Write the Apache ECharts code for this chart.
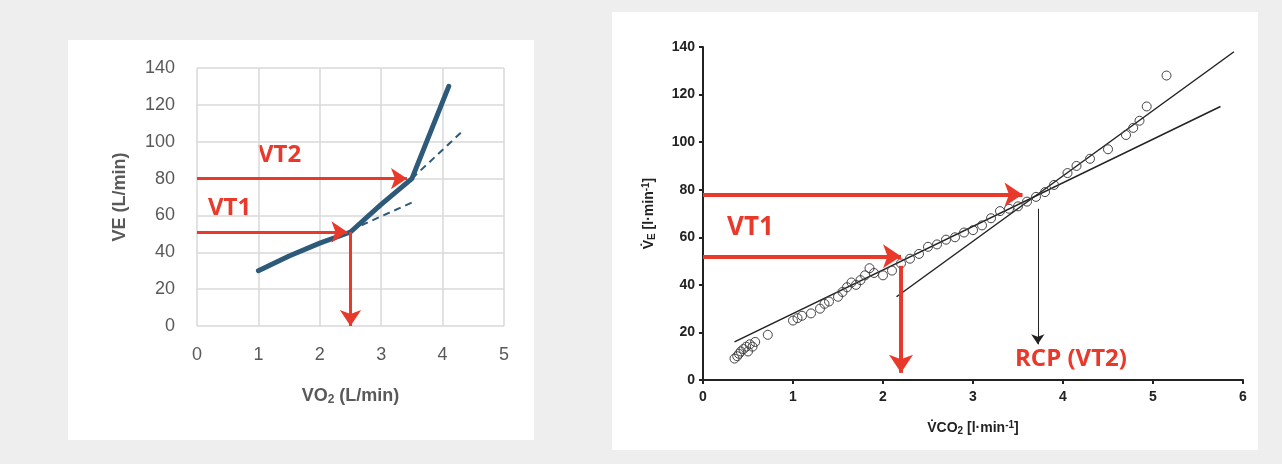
<!DOCTYPE html>
<html>
<head>
<meta charset="utf-8">
<script src="https://cdn.jsdelivr.net/npm/echarts@6/dist/echarts.min.js"></script>
<style>
  html, body { margin: 0; padding: 0; background: #eeeeee; }
  #chart { width: 1282px; height: 464px; }
</style>
</head>
<body>
<div id="chart"></div>
<script>
// left panel: VE vs VO2
var leftCurve = [[1, 30], [1.5, 38], [2, 45], [2.5, 51], [3, 66], [3.5, 80], [4.1, 130]];
var leftDash1 = [[2.5, 52], [3.5, 67]];
var leftDash2 = [[3.5, 80], [4.3, 105]];
var leftArrows = [
  [[0, 80], [3.42, 80]],
  [[0, 51], [2.45, 51]],
  [[2.5, 51], [2.5, 0]]
];

// right panel: VE vs VCO2
var rightPoints = [
  [0.35, 9], [0.38, 10], [0.4, 11], [0.42, 12], [0.45, 13], [0.48, 14], [0.5, 12], [0.52, 15],
  [0.55, 14], [0.58, 16], [0.72, 19], [1.0, 25], [1.05, 26], [1.1, 27], [1.2, 28], [1.3, 30],
  [1.35, 32], [1.4, 33], [1.5, 35], [1.55, 37], [1.6, 39], [1.65, 41], [1.7, 40], [1.75, 42],
  [1.8, 44], [1.85, 47], [1.9, 45], [2.0, 44], [2.1, 46], [2.2, 49], [2.3, 51], [2.4, 53],
  [2.5, 56], [2.6, 57], [2.7, 59], [2.8, 60], [2.9, 62], [3.0, 63], [3.1, 65], [3.2, 68],
  [3.3, 71], [3.4, 72], [3.5, 73], [3.6, 75], [3.7, 77], [3.8, 79], [3.9, 82], [4.05, 87],
  [4.15, 90], [4.3, 93], [4.5, 97], [4.7, 103], [4.78, 106], [4.85, 109], [4.93, 115], [5.15, 128]
];
var rightLine1 = [[0.35, 16], [5.75, 115]];
var rightLine2 = [[2.15, 35], [5.9, 138]];
var rightArrows = [
  [[0, 78], [3.55, 78]],
  [[0, 52], [2.2, 52]],
  [[2.2, 48], [2.2, 3]]
];
var rcpArrow = [[[3.72, 72], [3.72, 15]]];

var RED = '#e8392b';
var chart = echarts.init(document.getElementById('chart'));

function arrowLines(data, xi, color, width, size) {
  return {
    type: 'lines', coordinateSystem: 'cartesian2d', xAxisIndex: xi, yAxisIndex: xi,
    symbol: ['none', 'arrow'], symbolSize: size,
    lineStyle: { color: color, width: width, opacity: 1 },
    data: data.map(function (c) { return { coords: c }; }),
    z: 5
  };
}

chart.setOption({
  backgroundColor: '#eeeeee',
  animation: false,
  graphic: [
    { type: 'rect', shape: { x: 68, y: 40, width: 466, height: 400 }, style: { fill: '#fff' }, z: -10 },
    { type: 'rect', shape: { x: 612, y: 12, width: 646, height: 438 }, style: { fill: '#fff' }, z: -10 },
    { type: 'text', left: 208, top: 196, style: { text: 'VT1', fill: RED, font: 'bold 24px "Open Sans", sans-serif' } },
    { type: 'text', left: 258, top: 143, style: { text: 'VT2', fill: RED, font: 'bold 24px "Open Sans", sans-serif' } },
    { type: 'text', left: 727, top: 215, style: { text: 'VT1', fill: RED, font: 'bold 26px "Liberation Sans Narrow", "Open Sans", sans-serif' } },
    { type: 'text', left: 1015, top: 347, style: { text: 'RCP (VT2)', fill: RED, font: 'bold 24px "Liberation Sans Narrow", "Open Sans", sans-serif' } }
  ],
  grid: [
    { left: 197, top: 68, width: 307, height: 258 },
    { left: 703, top: 47, width: 540, height: 333 }
  ],
  xAxis: [
    {
      gridIndex: 0, type: 'value', min: 0, max: 5, interval: 1,
      axisLine: { show: false }, axisTick: { show: false },
      axisLabel: { color: '#595959', fontSize: 18, margin: 20, fontFamily: 'Liberation Sans' },
      splitLine: { show: true, lineStyle: { color: '#d9d9d9', width: 1.5 } },
      name: '{b|VO}{s|2}{b| (L/min)}', nameLocation: 'middle', nameGap: 60,
      nameTextStyle: { rich: {
        b: { fontSize: 18, fontWeight: 'bold', color: '#595959', fontFamily: 'Liberation Sans' },
        s: { fontSize: 12, fontWeight: 'bold', color: '#595959', verticalAlign: 'bottom', padding: [8, 0, 0, 0] }
      } }
    },
    {
      gridIndex: 1, type: 'value', min: 0, max: 6, interval: 1,
      axisLine: { show: true, lineStyle: { color: '#222', width: 2 } },
      axisTick: { show: true, inside: false, length: 4, lineStyle: { color: '#222', width: 2 } },
      axisLabel: { color: '#222', fontSize: 14, fontWeight: 'bold', margin: 10, fontFamily: 'Liberation Sans' },
      splitLine: { show: false },
      name: '{b|V̇CO}{s|2}{b| [l·min}{u|-1}{b|]}', nameLocation: 'middle', nameGap: 40,
      nameTextStyle: { rich: {
        b: { fontSize: 14, fontWeight: 'bold', color: '#222', fontFamily: 'Liberation Sans' },
        s: { fontSize: 10, fontWeight: 'bold', color: '#222', verticalAlign: 'bottom', padding: [6, 0, 0, 0] },
        u: { fontSize: 10, fontWeight: 'bold', color: '#222', verticalAlign: 'top', padding: [0, 0, 6, 0] }
      } }
    }
  ],
  yAxis: [
    {
      gridIndex: 0, type: 'value', min: 0, max: 140, interval: 20,
      axisLine: { show: false }, axisTick: { show: false },
      axisLabel: { color: '#595959', fontSize: 18, margin: 22, fontFamily: 'Liberation Sans' },
      splitLine: { show: true, lineStyle: { color: '#d9d9d9', width: 1.5 } },
      name: 'VE (L/min)', nameLocation: 'middle', nameGap: 68, nameRotate: 90,
      nameTextStyle: { fontSize: 18, fontWeight: 'bold', color: '#595959', fontFamily: 'Liberation Sans' }
    },
    {
      gridIndex: 1, type: 'value', min: 0, max: 140, interval: 20,
      axisLine: { show: true, lineStyle: { color: '#222', width: 2 } },
      axisTick: { show: true, length: 4, lineStyle: { color: '#222', width: 2 } },
      axisLabel: { color: '#222', fontSize: 14, fontWeight: 'bold', margin: 8, fontFamily: 'Liberation Sans' },
      splitLine: { show: false },
      name: '{b|V̇}{s|E}{b| [l·min}{u|-1}{b|]}', nameLocation: 'middle', nameGap: 46, nameRotate: 90,
      nameTextStyle: { rich: {
        b: { fontSize: 14, fontWeight: 'bold', color: '#222', fontFamily: 'Liberation Sans' },
        s: { fontSize: 10, fontWeight: 'bold', color: '#222', verticalAlign: 'bottom', padding: [6, 0, 0, 0] },
        u: { fontSize: 10, fontWeight: 'bold', color: '#222', verticalAlign: 'top', padding: [0, 0, 6, 0] }
      } }
    }
  ],
  series: [
    { type: 'line', xAxisIndex: 0, yAxisIndex: 0, data: leftCurve, showSymbol: false,
      lineStyle: { color: '#2e5a7a', width: 5, cap: 'round' }, z: 3 },
    { type: 'line', xAxisIndex: 0, yAxisIndex: 0, data: leftDash1, showSymbol: false,
      lineStyle: { color: '#2e5a7a', width: 2, type: [7, 5] }, z: 2 },
    { type: 'line', xAxisIndex: 0, yAxisIndex: 0, data: leftDash2, showSymbol: false,
      lineStyle: { color: '#2e5a7a', width: 2, type: [7, 5] }, z: 2 },
    arrowLines(leftArrows, 0, RED, 3, [0, 16]),
    { type: 'scatter', xAxisIndex: 1, yAxisIndex: 1, data: rightPoints, symbol: 'circle', symbolSize: 9,
      itemStyle: { color: 'rgba(255,255,255,0)', borderColor: '#444', borderWidth: 1, opacity: 1 }, z: 4 },
    { type: 'line', xAxisIndex: 1, yAxisIndex: 1, data: rightLine1, showSymbol: false,
      lineStyle: { color: '#222', width: 1.5 } },
    { type: 'line', xAxisIndex: 1, yAxisIndex: 1, data: rightLine2, showSymbol: false,
      lineStyle: { color: '#222', width: 1.5 } },
    arrowLines(rightArrows, 1, RED, 4, [0, 18]),
    arrowLines(rcpArrow, 1, '#222', 1, [0, 10])
  ]
});
</script>
</body>
</html>
